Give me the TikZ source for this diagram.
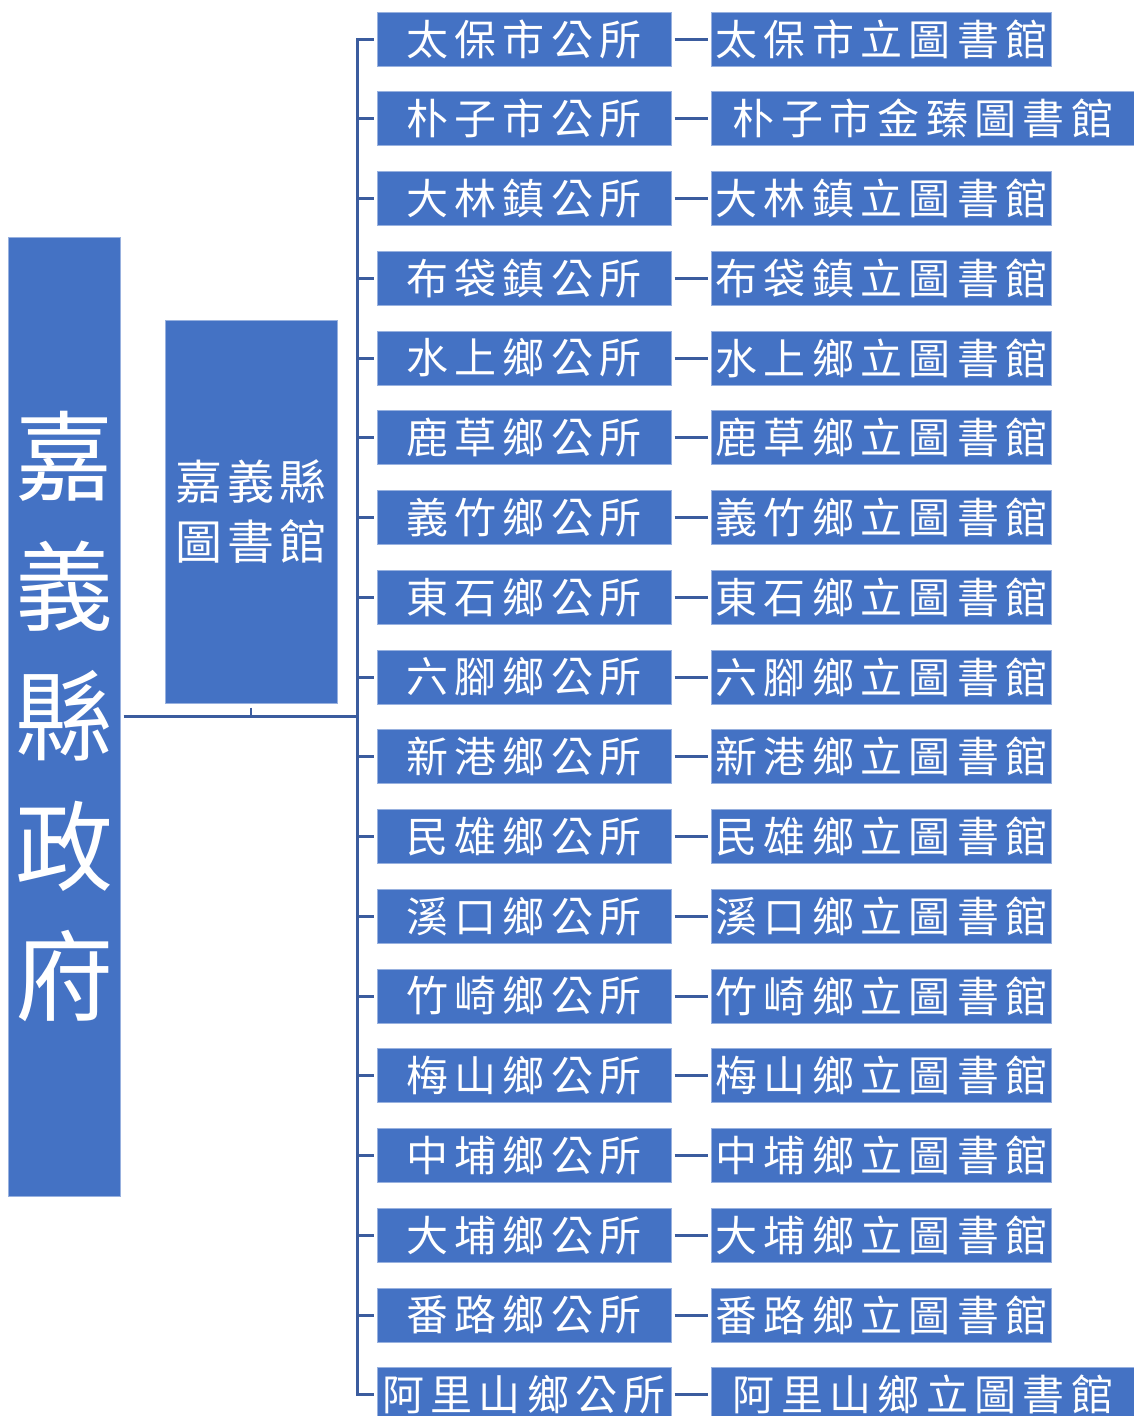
\documentclass[tikz,border=0pt]{standalone}
\usepackage{fontspec}
\usepackage{tikz}
\setmainfont{Noto Sans CJK TC}
\newfontfamily\cjkwide[LetterSpace=15]{Noto Sans CJK TC}
\newfontfamily\cjkmid[LetterSpace=10]{Noto Sans CJK TC}
\definecolor{OrgBoxBlue}{RGB}{68,114,196}
\definecolor{OrgLineBlue}{RGB}{59,92,158}

\begin{document}
\begin{tikzpicture}[x=1pt,y=-1pt,
  orgbox/.style n args={2}{fill=OrgBoxBlue,draw=OrgBoxBlue!55!white,line width=1pt,minimum width=#1,minimum height=#2,inner sep=0pt,text=white},
  rowtext/.style={font=\cjkwide\fontsize{42}{48}\selectfont},
  conn/.style={OrgLineBlue,line width=3pt}]
\useasboundingbox (0,0) rectangle (1134,1416);
\node[orgbox={112pt}{959pt},font=\fontsize{98}{130}\selectfont,align=center] (gov) at (64,716.5) {嘉\\義\\縣\\政\\府};
\node[orgbox={172pt}{383pt},font=\cjkmid\fontsize{47}{60}\selectfont,align=center] (lib) at (251,511.5) {嘉義縣\\圖書館};
\coordinate (trunk) at (357,716.5);
\draw[conn,shorten <=3pt] (gov.east) -- (trunk);
\draw[OrgLineBlue,line width=2pt] ([yshift=-4pt]lib.south) -- (lib.south |- trunk);
\foreach \town/\libname/\w [count=\i] in %
{太保市公所/太保市立圖書館/340,朴子市公所/朴子市金臻圖書館/423,大林鎮公所/大林鎮立圖書館/340,
 布袋鎮公所/布袋鎮立圖書館/340,水上鄉公所/水上鄉立圖書館/340,鹿草鄉公所/鹿草鄉立圖書館/340,
 義竹鄉公所/義竹鄉立圖書館/340,東石鄉公所/東石鄉立圖書館/340,六腳鄉公所/六腳鄉立圖書館/340,
 新港鄉公所/新港鄉立圖書館/340,民雄鄉公所/民雄鄉立圖書館/340,溪口鄉公所/溪口鄉立圖書館/340,
 竹崎鄉公所/竹崎鄉立圖書館/340,梅山鄉公所/梅山鄉立圖書館/340,中埔鄉公所/中埔鄉立圖書館/340,
 大埔鄉公所/大埔鄉立圖書館/340,番路鄉公所/番路鄉立圖書館/340,阿里山鄉公所/阿里山鄉立圖書館/423} {
   \node[orgbox={294pt}{54pt},rowtext] (t\i) at (524,{39+(\i-1)*79.75}) {\town};
   \node[orgbox={\w pt}{54pt},rowtext,anchor=west] (l\i) at (711,{39+(\i-1)*79.75}) {\libname};
   \draw[conn] (trunk) |- ([xshift=-3pt]t\i.west);
   \draw[conn,shorten <=3pt,shorten >=3pt] (t\i) -- (l\i);
}
\end{tikzpicture}
\end{document}
